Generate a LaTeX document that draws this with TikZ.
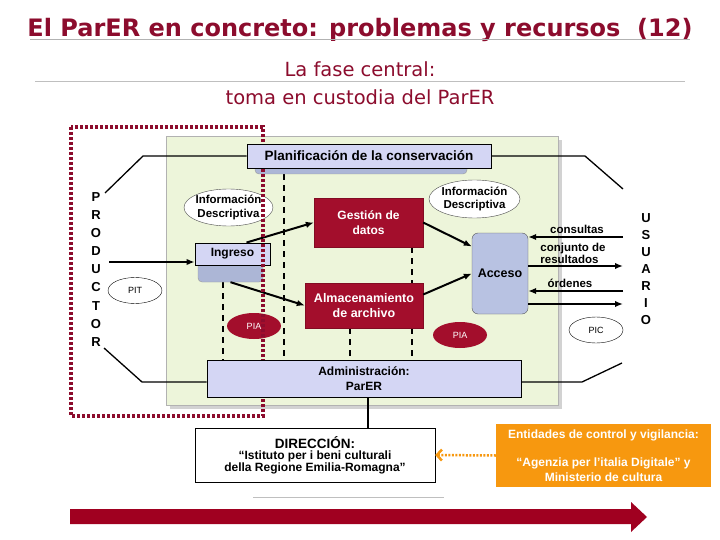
\documentclass[tikz,border=0pt]{standalone}
\usepackage{fontspec}
\setmainfont{Liberation Sans}
\newfontfamily\verdana{DejaVu Sans}
\usetikzlibrary{arrows.meta,shapes.geometric}

\definecolor{parred}{RGB}{140,12,45}
\definecolor{boxred}{RGB}{163,14,44}
\definecolor{panelgreen}{RGB}{237,245,218}
\definecolor{lavfill}{RGB}{212,214,244}
\definecolor{accblue}{RGB}{184,194,226}
\definecolor{shadowblue}{RGB}{172,182,214}
\definecolor{orangebox}{RGB}{247,152,15}
\definecolor{bigarrow}{RGB}{160,0,32}

\begin{document}
\begin{tikzpicture}[x=1pt, y=-1pt,
  lav/.style={draw=black, line width=0.9pt, fill=lavfill, inner sep=0pt,
    font=\bfseries\fontsize{13.5}{15}\selectfont},
  redbox/.style={fill=boxred, draw=boxred!80!black, text=white, align=center,
    inner sep=0pt, font=\bfseries\fontsize{12.5}{15}\selectfont},
  shadowbox/.style={fill=shadowblue, draw=gray!80, rounded corners=4pt, inner sep=0pt},
  infoell/.style={ellipse, draw=gray!60!black, fill=white, inner sep=-6pt, align=center,
    font=\bfseries\fontsize{11.5}{13.5}\selectfont},
  pinode/.style={ellipse, inner sep=0pt, minimum width=54, minimum height=26,
    font=\fontsize{9}{10}\selectfont},
  letra/.style={font=\bfseries\fontsize{13}{13}\selectfont, inner sep=0pt},
  lbl/.style={font=\bfseries\fontsize{11.5}{12}\selectfont, inner sep=0pt, align=left},
  arr/.style={line width=2pt, -{Latex[length=8pt,width=6.5pt]}},
  conn/.style={line width=1.3pt},
  dashln/.style={line width=1.6pt, dash pattern=on 6pt off 5pt}]

% fondo y margenes
\fill[white] (0,0) rectangle (720,540);

% titulo
\node[anchor=base, text=parred, inner sep=0pt,
  font=\verdana\bfseries\fontsize{24}{26}\selectfont] (titulo) at (360,37)
  {El ParER en concreto: problemas y recursos~~(12)};
\draw[gray!60, line width=0.8pt] (30,39) -- (690,39);
\node[anchor=base, text=parred, inner sep=0pt,
  font=\verdana\fontsize{19.5}{22}\selectfont] (fase) at (360,77) {La fase central:};
\draw[gray!50, line width=0.8pt] (35,81) -- (685,81);
\node[anchor=base, text=parred, inner sep=0pt,
  font=\verdana\fontsize{19.5}{22}\selectfont] (toma) at (360,105) {toma en custodia del ParER};

% panel verde
\fill[gray!35] (170,140) rectangle (562,409);
\draw[gray!60, fill=panelgreen] (166,136) rectangle (558,405);

% lineas discontinuas
\draw[dashln] (284,174) -- (284,360);
\draw[dashln] (223,282) -- (223,360);
\draw[dashln] (350,328) -- (350,360);
\draw[dashln] (412,247) -- (412,283);
\draw[dashln] (412,328) -- (412,360);

% sombras
\node[shadowbox, minimum width=212, minimum height=24] (plansh) at (361,162) {};
\node[shadowbox, minimum width=65, minimum height=32] (ingresosh) at (230.5,266) {};

% PRODUCTOR y USUARIO
\foreach \l [count=\i] in {P,R,O,D,U,C,T,O,R}
  \node[letra] (prod\i) at (96,197+18.1*\i-18.1) {\l};
\foreach \l [count=\i] in {U,S,U,A,R,I,O}
  \node[letra] (usu\i) at (646,218+17*\i-17) {\l};

% elipses
\node[infoell, minimum width=89, minimum height=37] (info1) at (228.5,207.5) {Información\\Descriptiva};
\node[infoell, minimum width=91, minimum height=38] (info2) at (474.5,199) {Información\\Descriptiva};
\node[pinode, draw=black, fill=white] (pit) at (135,290.5) {PIT};
\node[pinode, fill=boxred, text=white] (pia1) at (254,326) {PIA};
\node[pinode, fill=boxred, text=white] (pia2) at (460,335) {PIA};
\node[pinode, draw=black, fill=white] (pic) at (596,330) {PIC};

% cajas centrales
\node[lav, minimum width=75, minimum height=22, font=\bfseries\fontsize{12}{14}\selectfont]
  (ingreso) at (232.5,254) {Ingreso};
\node[redbox, minimum width=109, minimum height=49, font=\bfseries\fontsize{12}{15}\selectfont]
  (gestion) at (368.5,222.5) {Gestión de\\datos};
\node[redbox, minimum width=118, minimum height=45] (almac) at (364,305.5) {Almacenamiento\\de archivo};
\node[draw=gray!70!black, fill=accblue, rounded corners=6pt, minimum width=56, minimum height=81,
  inner sep=0pt, font=\bfseries\fontsize{12.5}{14}\selectfont] (acceso) at (500,273.5) {Acceso};

% flechas internas
\coordinate (prodout) at (109,262);
\draw[arr, line width=2.5pt] (prodout) -- (prodout -| ingreso.west);
\draw[arr] ([xshift=14pt]ingreso.north) -- (gestion.west);
\draw[arr] (ingresosh.south) -- (almac.west);
\draw[arr] (gestion.east) -- ([yshift=27pt]acceso.west);
\draw[arr] ([yshift=11pt]almac.east) -- (acceso.west);

% flechas hacia y desde USUARIO
\coordinate (cons) at (623,237);
\coordinate (res) at (623,266);
\coordinate (ord) at (623,291);
\coordinate (sal) at (623,304);
\draw[arr] (cons) -- (cons -| acceso.east);
\draw[arr] (res -| acceso.east) -- (res);
\draw[arr] (ord) -- (ord -| acceso.east);
\draw[arr] (sal -| acceso.east) -- (sal);
\node[lbl] (lcons) at (577,229) {consultas};
\node[lbl] (lres) at (573,253) {conjunto de\\resultados};
\node[lbl] (lord) at (570,283) {órdenes};

% recuadro punteado
\draw[parred, line width=3.5pt, dash pattern=on 3pt off 2pt] (71,127) rectangle (263,416);

% planificacion y administracion
\node[lav, minimum width=244, minimum height=24] (plan) at (369,156) {Planificación de la conservación};
\node[lav, minimum width=314, minimum height=37, align=center,
  font=\bfseries\fontsize{12}{15}\selectfont] (admin) at (364,378.5) {Administración:\\ParER};

% lineas de PRODUCTOR y USUARIO
\coordinate (p1) at (105,193);
\coordinate (p2) at (104,348);
\coordinate (u1) at (623,189);
\coordinate (u2) at (622,363);
\draw[conn] (plan.west) -- (143,156) -- (p1);
\draw[conn] (plan.east) -- (585,156) -- (u1);
\draw[conn] (admin.west |- 0,382) -- (142,382) -- (p2);
\draw[conn] (admin.east |- 0,382) -- (582,382) -- (u2);

% direccion
\node[draw=black, fill=white, minimum width=240, minimum height=54, align=center, inner sep=0pt]
  (direc) at (315,455)
  {{\bfseries\fontsize{13.5}{15}\selectfont DIRECCIÓN:}\\[-1pt]
   {\bfseries\fontsize{12}{14}\selectfont “Istituto per i beni culturali}\\
   {\bfseries\fontsize{12}{14}\selectfont della Regione Emilia-Romagna”}};
\coordinate (adm) at ([xshift=4pt]admin.south);
\draw[conn] (adm) -- (adm |- direc.north);
\draw[gray!50, line width=0.8pt] (253,497) -- (444,497);

% entidades de control
\node[fill=orangebox, text=white, minimum width=215, minimum height=63, align=center, inner sep=0pt,
  font=\bfseries\fontsize{12}{15}\selectfont] (entes) at (603.5,455.5)
  {Entidades de control y vigilancia:\\[13pt]“Agenzia per l’italia Digitale” y\\Ministerio de cultura};
\draw[orangebox, line width=2.5pt, dash pattern=on 2pt off 1.5pt,
  -{Straight Barb[length=5pt,width=11pt]}] (entes.west) -- (direc.east);

% flecha grande
\fill[bigarrow] (70,509) -- (631,509) -- (631,502) -- (647,517) -- (631,532) -- (631,524) -- (70,524) -- cycle;

\end{tikzpicture}
\end{document}
